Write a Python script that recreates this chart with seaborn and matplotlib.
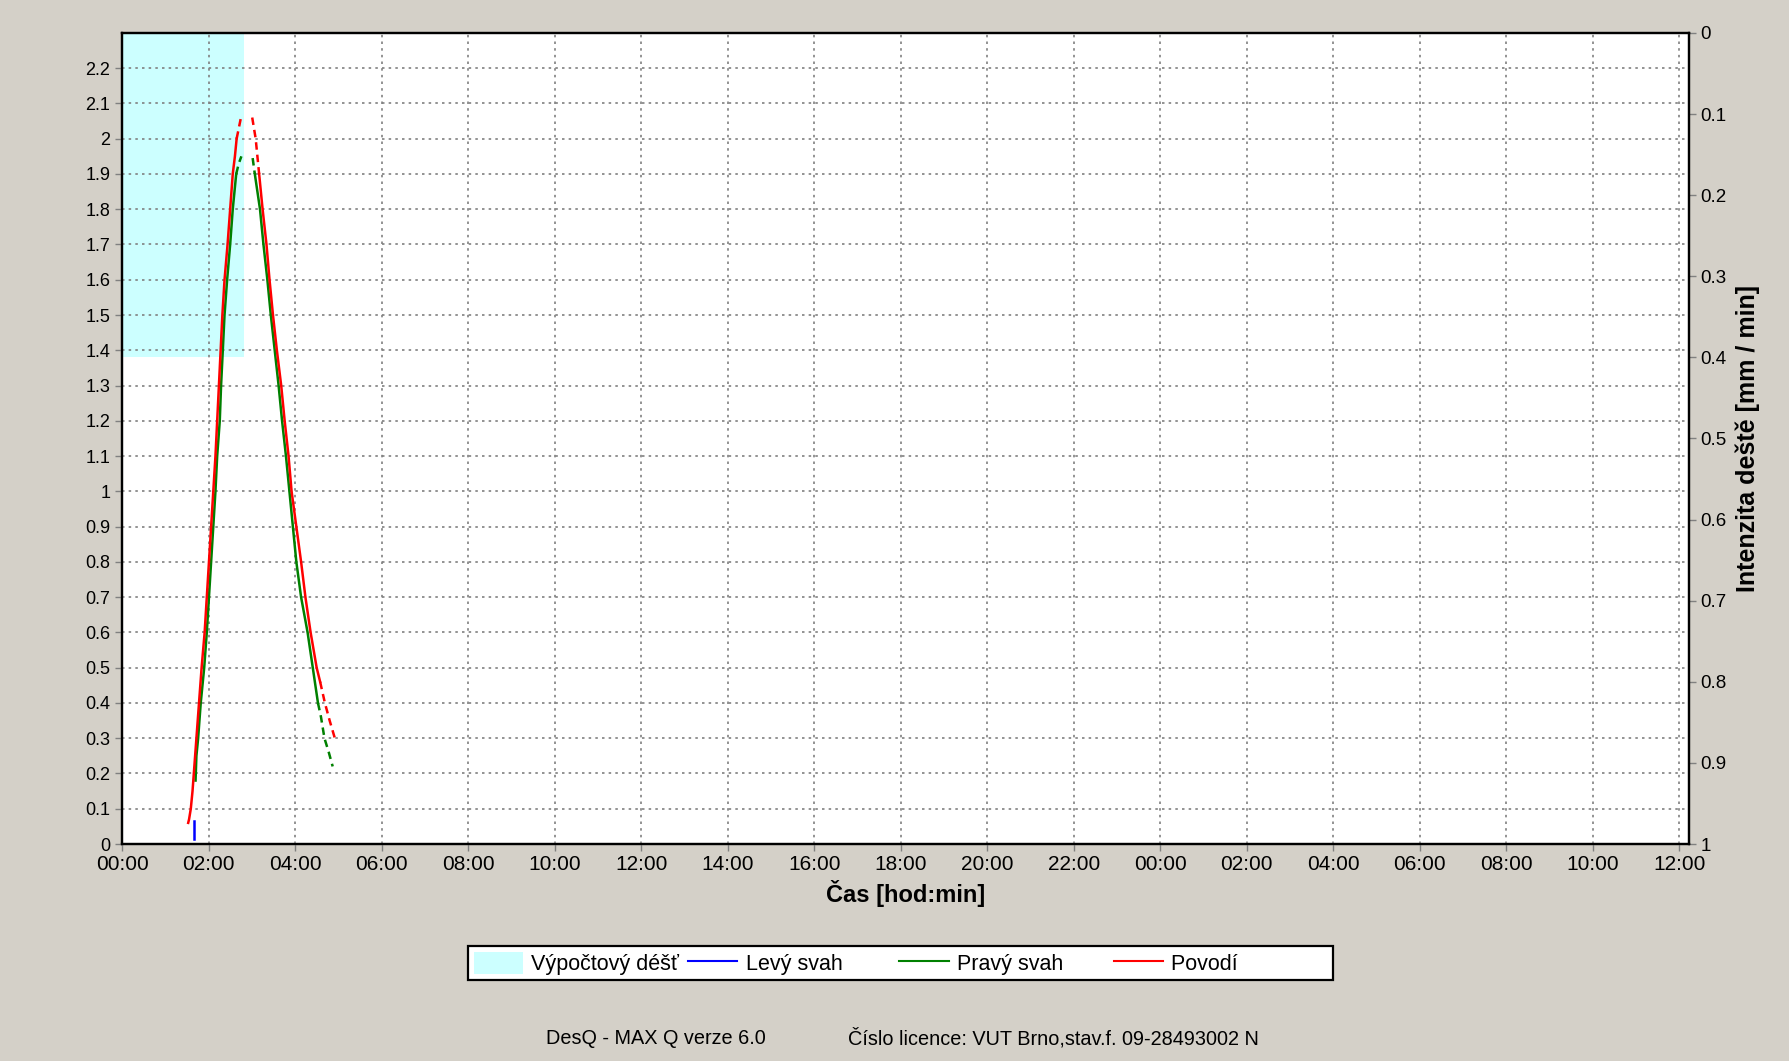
import matplotlib
matplotlib.use('Agg')
import matplotlib.pyplot as plt
import seaborn as sns
import numpy as np
from matplotlib.patches import Patch
from matplotlib.lines import Line2D
from matplotlib.ticker import FuncFormatter

# cas v hodinach, prutok
rain_t = [0.0, 2.83]          # vypoctovy dest od / do
rain_int = [0.4]              # intenzita [mm/min]

levy_t = [1.66, 1.66]
levy_q = [0.015, 0.065]

povodi_up_t = [1.53, 1.55, 1.59, 1.63, 1.66, 1.72, 1.78, 1.84, 1.91, 1.96, 2.01, 2.06, 2.11, 2.16,
               2.20, 2.24, 2.28, 2.32, 2.37, 2.44, 2.50, 2.56, 2.61, 2.65, 2.70, 2.75]
povodi_up_q = [0.06, 0.07, 0.10, 0.15, 0.20, 0.30, 0.40, 0.50, 0.60, 0.70, 0.80, 0.90, 1.00, 1.10,
               1.20, 1.30, 1.40, 1.50, 1.60, 1.70, 1.80, 1.90, 1.95, 2.00, 2.03, 2.06]
povodi_down_t = [3.01, 3.05, 3.09, 3.17, 3.25, 3.34, 3.41, 3.49, 3.58, 3.68, 3.76, 3.85, 3.92, 4.03,
                 4.14, 4.24, 4.36, 4.50, 4.58, 4.69, 4.80, 4.92]
povodi_down_q = [2.06, 2.03, 2.00, 1.90, 1.80, 1.70, 1.60, 1.50, 1.40, 1.30, 1.20, 1.10, 1.00, 0.90,
                 0.80, 0.70, 0.60, 0.50, 0.46, 0.40, 0.35, 0.30]

pravy_up_t = [1.70, 1.72, 1.76, 1.82, 1.90, 1.96, 2.01, 2.06, 2.11, 2.16, 2.20, 2.26, 2.29, 2.33,
              2.37, 2.43, 2.50, 2.56, 2.64, 2.70, 2.76]
pravy_up_q = [0.18, 0.25, 0.30, 0.40, 0.50, 0.60, 0.70, 0.80, 0.90, 1.00, 1.10, 1.20, 1.30, 1.40,
              1.50, 1.60, 1.70, 1.80, 1.90, 1.93, 1.95]
pravy_down_t = [3.02, 3.07, 3.13, 3.19, 3.27, 3.36, 3.44, 3.53, 3.62, 3.70, 3.79, 3.87, 3.95, 4.03,
                4.14, 4.29, 4.41, 4.53, 4.60, 4.68, 4.78, 4.87]
pravy_down_q = [1.945, 1.90, 1.85, 1.80, 1.70, 1.60, 1.50, 1.40, 1.30, 1.20, 1.10, 1.00, 0.90, 0.80,
                0.70, 0.60, 0.50, 0.40, 0.36, 0.30, 0.26, 0.22]

x_ticks = np.arange(0, 37, 2)
y_ticks = np.round(np.arange(0, 2.21, 0.1), 1)
y2_ticks = np.round(np.arange(0, 1.01, 0.1), 1)

bg = '#D4D0C8'
cyan = '#CCFFFF'
red = '#FF0000'
green = '#008000'
blue = '#0000FF'

plt.rcParams['font.family'] = ['Liberation Sans', 'DejaVu Sans']

fig = plt.figure(figsize=(17.89, 10.61), dpi=100, facecolor=bg)
ax = fig.add_axes([0.0682, 0.2045, 0.8758, 0.7645])
ax2 = ax.twinx()

# srazka na prave ose (obracena)
ax2.bar(rain_t[0], rain_int[0], width=rain_t[1] - rain_t[0], align='edge', color=cyan, linewidth=0, zorder=0)
ax2.set_ylim(1, 0)
ax.set_zorder(ax2.get_zorder() + 1)
ax.patch.set_visible(False)
ax2.patch.set_visible(True)
ax2.patch.set_facecolor('white')


def draw(t, q, color, dashed):
    t = np.array(t)
    q = np.array(q)
    d = np.array(dashed)
    i = 0
    n = len(t)
    while i < n - 1:
        j = i + 1
        while j < n - 1 and d[j] == d[i]:
            j += 1
        seg = slice(i, j + 1)
        ls = (0, (3, 2)) if d[i] else '-'
        sns.lineplot(x=t[seg], y=q[seg], sort=False, estimator=None, color=color,
                     linewidth=1.8, linestyle=ls, ax=ax)
        i = j


pu = np.array(povodi_up_q); pd_ = np.array(povodi_down_q)
gu = np.array(pravy_up_q); gd = np.array(pravy_down_q)
draw(pravy_up_t, pravy_up_q, green, gu >= 1.90)
draw(pravy_down_t, pravy_down_q, green, (gd >= 1.92) | (gd <= 0.40))
draw(povodi_up_t, povodi_up_q, red, pu >= 2.00)
draw(povodi_down_t, povodi_down_q, red, (pd_ >= 2.00) | (pd_ <= 0.46))
sns.lineplot(x=levy_t, y=levy_q, sort=False, estimator=None, color=blue, linewidth=1.8, ax=ax)

ax.set_xlim(0, 36.22)
ax.set_ylim(0, 2.3)
ax.set_xticks(x_ticks)
ax.xaxis.set_major_formatter(FuncFormatter(lambda v, p: '%02d:00' % (int(round(v)) % 24)))
ax.set_yticks(y_ticks)
ax.yaxis.set_major_formatter(FuncFormatter(lambda v, p: '%g' % round(v, 1)))
ax2.set_yticks(y2_ticks)
ax2.yaxis.set_major_formatter(FuncFormatter(lambda v, p: '%g' % round(v, 1)))

ax.grid(True, color='#808080', linestyle=(0, (1.5, 2.5)), linewidth=1.2)
ax.tick_params(axis='x', labelsize=15, color='#808080', length=5, width=1, pad=3)
ax.tick_params(axis='y', labelsize=13, color='#808080', length=5, width=1)
ax2.tick_params(axis='y', labelsize=13.5, color='#808080', length=5, width=1)

for a in (ax, ax2):
    for s in a.spines.values():
        s.set_color('black')
        s.set_linewidth(1.6)

ax.set_xlabel('Čas [hod:min]', fontsize=17, fontweight='bold', labelpad=4)
ax.set_ylabel('')
ax2.set_ylabel('Intenzita deště [mm / min]', fontsize=18, fontweight='bold', labelpad=6)

nb = '\u00a0'
handles = [Patch(facecolor=cyan, edgecolor='none'),
           Line2D([], [], color=blue, linewidth=1.5),
           Line2D([], [], color=green, linewidth=1.5),
           Line2D([], [], color=red, linewidth=1.5)]
labels = ['Výpočtový déšť', 'Levý svah' + nb * 8, 'Pravý svah' + nb * 7, 'Povodí' + nb * 15]
leg = fig.legend(handles, labels, loc='center', bbox_to_anchor=(0.5035, 0.092), ncol=4,
                 fontsize=15.5, frameon=True, fancybox=False, edgecolor='black', facecolor='white',
                 framealpha=1, handlelength=2.3, handleheight=1.2, handletextpad=0.38,
                 columnspacing=0.4, borderpad=0.25, borderaxespad=0)
leg.get_frame().set_linewidth(1.6)

fig.text(0.305, 0.021, 'DesQ - MAX Q verze 6.0', fontsize=14.3, va='center')
fig.text(0.474, 0.021, 'Číslo licence: VUT Brno,stav.f. 09-28493002 N', fontsize=14.3, va='center')

fig.savefig('out.png', dpi=100, facecolor=bg)
